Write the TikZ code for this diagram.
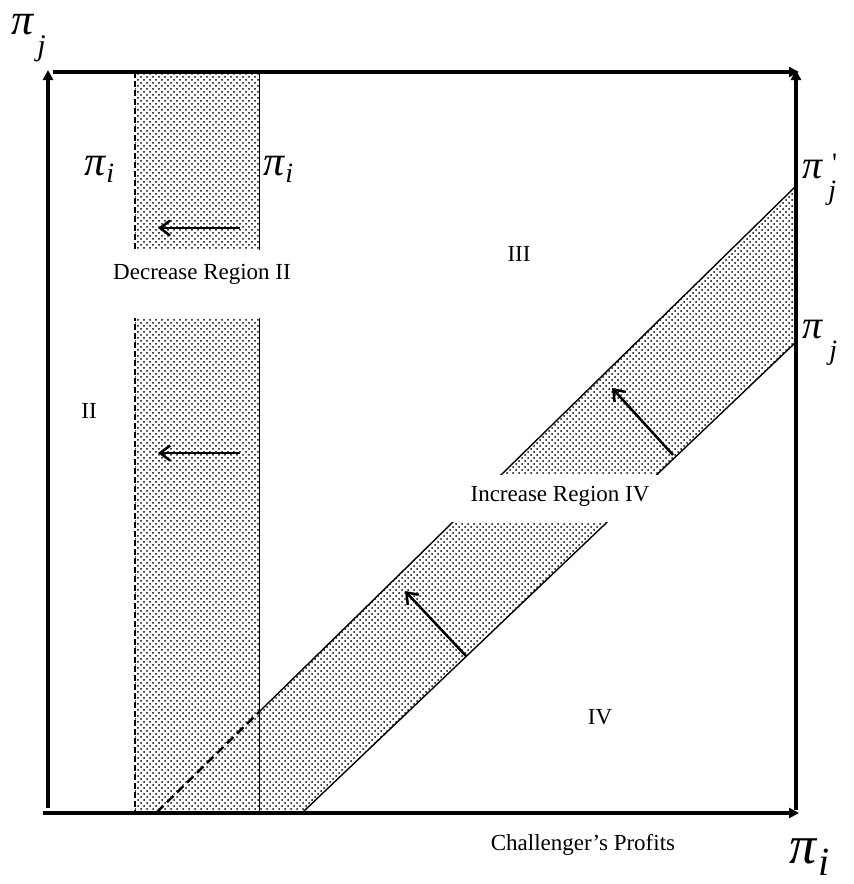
\documentclass[tikz,border=0pt]{standalone}
\usepackage{fontspec}
\setmainfont{Liberation Serif}
\usetikzlibrary{arrows.meta,patterns}

\tikzset{
  axis/.style={line width=2pt, -{Triangle[length=5pt,width=5pt]}},
  edge/.style={line width=0.7pt},
  move/.style={line width=1.25pt, -{Straight Barb[length=5pt,width=7.5pt]}},
  band/.style={pattern=crosshatch dots, pattern color=black},
  lbl/.style={font=\fontsize{11.5}{13}\selectfont, inner sep=0pt},
  gap/.style={lbl, fill=white, anchor=base},
  sym/.style={inner sep=0pt, anchor=base west},
}
% pi with a lowered index: size, index, index size, drop, gap
\newcommand{\pisub}[5]{{\fontsize{#1}{#1}\selectfont\itshape π}\kern#5\raisebox{-#4}{\fontsize{#3}{#3}\selectfont\itshape #2}}

\begin{document}
\begin{tikzpicture}[x=0.5pt, y=-0.5pt]
		\useasboundingbox (0,0) rectangle (854,884);

		% Corner points of the bands
		\coordinate (vlt) at (135,72);  \coordinate (vlb) at (135,812);
		\coordinate (vrt) at (259,72);  \coordinate (vrb) at (259,812);
		\coordinate (ub) at (157,812);  \coordinate (ut) at (796,186);
		\coordinate (ux) at (259,712);
		\coordinate (lb) at (303,812);  \coordinate (lt) at (796,342);

		% Shaded bands
		\fill[band] (vlt) rectangle (vrb);
		\fill[band] (ux) -- (ut) -- (lt) -- (lb) -- (vrb) -- cycle;

		% Band edges
		\draw[edge, line width=1pt, dash pattern=on 3pt off 1.5pt] (vlt) -- (vlb);
		\draw[edge, line width=0.5pt] (vrt) -- (vrb);
		\draw[edge, line width=1.2pt, dash pattern=on 4.5pt off 2.5pt] (ub) -- (ux);
		\draw[edge] (ux) -- (ut);
		\draw[edge] (lb) -- (lt);

		% Axes
		\draw[axis] (48,808) -- (48,70);
		\draw[axis] (53,72) -- (799,72);
		\draw[axis] (796,810) -- (796,70);
		\draw[axis] (43,813) -- (799,813);

		% Shifts of the two thresholds
		\coordinate (a1s) at (240,228); \coordinate (a1e) at (158,228);
		\coordinate (a2s) at (240,453); \coordinate (a2e) at (158,453);
		\coordinate (a3s) at (673,455); \coordinate (a3e) at (612,388);
		\coordinate (a4s) at (466,656); \coordinate (a4e) at (405,591);
		\foreach \n in {1,2,3,4} {
				\draw[move] (a\n s) -- (a\n e);
			}

		% Captions cutting the bands
		\node[gap, text height=14.5pt, text depth=19.5pt, inner xsep=6pt] (dec) at (202,279) {Decrease Region II};
		\node[gap, text height=13pt, text depth=10.5pt, inner xsep=11pt] (inc) at (560,501) {Increase Region IV};

		% Region numbers
		\node[lbl] (rii) at (89,411) {II};
		\node[lbl] (riii) at (519,254) {III};
		\node[lbl] (riv) at (600,717) {IV};
		\node[lbl, anchor=base] (prof) at (583,850) {Challenger’s Profits};

		% Profit symbols
		\node[sym] (pjtop) at (11,34) {\pisub{22}{j}{15}{10.5pt}{2pt}};
		\node[sym] (pileft) at (84,175) {\pisub{21}{i}{14}{3.5pt}{0.5pt}};
		\node[sym] (piright) at (263,175) {\pisub{21}{i}{14}{3.5pt}{0.5pt}};
		\node[sym] (pjprime) at (802,178) {\pisub{20}{j}{14}{10.5pt}{3pt}\kern-2pt\raisebox{3pt}{\fontsize{14}{14}\selectfont\textquotesingle}};
		\node[sym] (pjright) at (802,338) {\pisub{20}{j}{14}{10.5pt}{3.5pt}};
		\node[sym] (pibot) at (789,863) {\pisub{27}{i}{20}{6pt}{1pt}};
	\end{tikzpicture}
\end{document}
